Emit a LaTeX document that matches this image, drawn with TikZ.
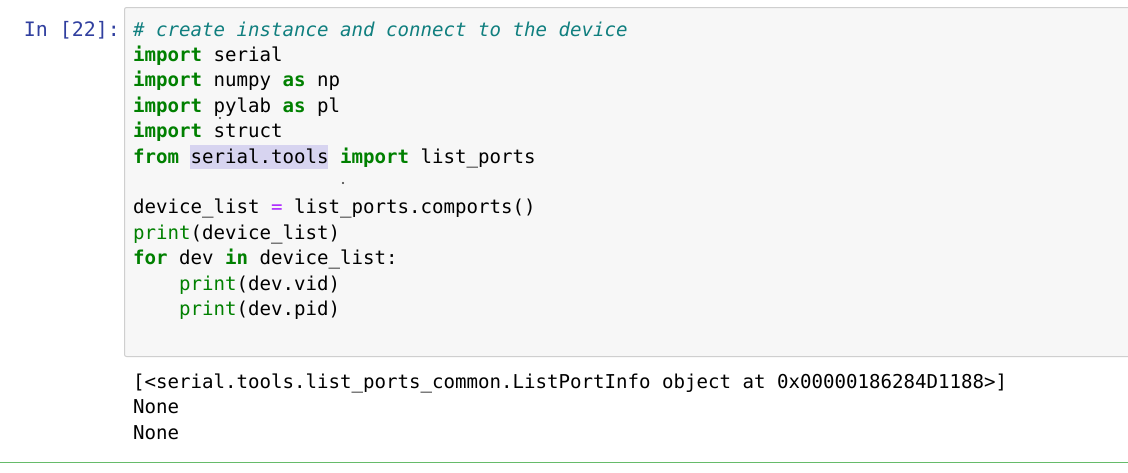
\documentclass[tikz,border=0pt]{standalone}
\usepackage{fontspec}
\newfontfamily\codefont{DejaVu Sans Mono}
\definecolor{kw}{HTML}{008000}
\definecolor{cm}{HTML}{107F7F}
\definecolor{op}{HTML}{AA22FF}
\definecolor{prompt}{HTML}{303F9F}
\definecolor{boxfill}{HTML}{F7F7F7}
\definecolor{boxline}{HTML}{CFCFCF}
\definecolor{hl}{HTML}{D7D4F0}
\definecolor{sep}{HTML}{66BB6A}
\definecolor{txt}{HTML}{000000}
\newcommand{\kw}[1]{{\color{kw}\bfseries #1}}
\begin{document}
\begin{tikzpicture}[x=1pt,y=-1pt,
  codeline/.style={anchor=base west,inner sep=0pt,font=\codefont\fontsize{19.1}{25}\selectfont,text=txt},
  promptstyle/.style={anchor=base east,inner sep=0pt,font=\codefont\fontsize{19.9}{25}\selectfont,text=prompt}]
\useasboundingbox (0,0) rectangle (1128,472);
\fill[white] (0,0) rectangle (1128,472);
% code box
\draw[boxline,fill=boxfill,line width=1pt,rounded corners=2pt] (124.5,7.5) rectangle (1140,356.5);
% highlight
\fill[hl] (190,145) rectangle (328,169);
% stray dots
\fill[black!80] (220,118) circle (1.1pt);
\fill[black!80] (343,183) circle (1.1pt);
% prompt
\node[promptstyle] (prompt) at (120,36) {In [22]:};
% code lines
\node[codeline] (l1) at (133,36) {{\color{cm}\itshape \# create instance and connect to the device}};
\node[codeline] (l2) at (133,61.4) {\kw{import} serial};
\node[codeline] (l3) at (133,86.8) {\kw{import} numpy \kw{as} np};
\node[codeline] (l4) at (133,112.2) {\kw{import} pylab \kw{as} pl};
\node[codeline] (l5) at (133,137.6) {\kw{import} struct};
\node[codeline] (l6) at (133,163) {\kw{from} serial.tools \kw{import} list\_ports};
\node[codeline] (l8) at (133,213.8) {device\_list {\color{op}=} list\_ports.comports()};
\node[codeline] (l9) at (133,239.2) {{\color{kw}print}(device\_list)};
\node[codeline] (l10) at (133,264.6) {\kw{for} dev \kw{in} device\_list:};
\node[codeline] (l11) at (179,290) {{\color{kw}print}(dev.vid)};
\node[codeline] (l12) at (179,315.4) {{\color{kw}print}(dev.pid)};
% output
\node[codeline] (o1) at (133,388) {[<serial.tools.list\_ports\_common.ListPortInfo object at 0x00000186284D1188>]};
\node[codeline] (o2) at (133,413.5) {None};
\node[codeline] (o3) at (133,439) {None};
% separator
\draw[sep,line width=1.5pt] (0,462.5) -- (1128,462.5);
\end{tikzpicture}
\end{document}
